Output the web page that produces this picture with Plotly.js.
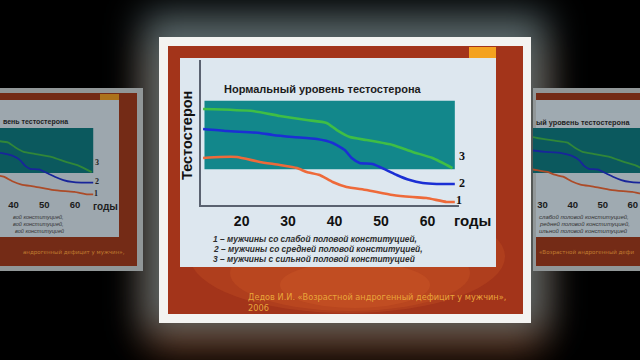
<!DOCTYPE html>
<html>
<head>
<meta charset="utf-8">
<script src="https://cdn.plot.ly/plotly-3.0.1.min.js"></script>
<style>
  html, body { margin: 0; padding: 0; background: #000; width: 640px; height: 360px; overflow: hidden; }
  #glow { position: absolute; left: 159px; top: 37px; width: 372px; height: 286px; background: #f2f2f0;
          box-shadow: 0 -8px 34px 16px rgba(95,115,120,0.85), 0 18px 36px 10px rgba(125,62,30,0.75); }
  #chart { position: absolute; left: 0; top: 0; width: 640px; height: 360px; }
</style>
</head>
<body>
<div id="glow"></div>
<div id="chart"></div>
<script>
// ---- data ----
const ageTicks = [20, 30, 40, 50, 60];
const tickLabels = ['20', '30', '40', '50', '60'];

// normal testosterone range (band)
const bandAges = [12.0, 65.9];
const normalLow = 24.6;
const normalHigh = 71.9;

// 1 – weak constitution (orange)
const ageWeak   = [11.7, 15.3, 19.0, 23.9, 28.2, 31.9, 34.0, 36.8, 39.6, 42.6, 46.9, 52.5, 56.8, 59.8, 64.1, 65.9];
const levelWeak = [32.4, 33.1, 33.1, 29.7, 27.6, 25.5, 22.8, 20.7, 15.9, 12.4, 10.3, 6.9, 5.5, 4.8, 2.1, 2.1];

// 2 – medium constitution (blue)
const ageMid   = [11.7, 16.8, 23.9, 26.7, 31.0, 36.2, 39.6, 42.2, 43.7, 45.4, 48.2, 51.2, 53.4, 56.2, 59.0, 62.0, 65.9];
const levelMid = [52.4, 51.0, 49.7, 48.3, 46.9, 45.5, 42.8, 37.9, 32.4, 29.0, 28.3, 24.1, 20.7, 17.2, 15.2, 14.5, 14.5];

// 3 – strong constitution (green)
const ageStrong   = [11.7, 22.4, 28.2, 34.0, 38.3, 40.5, 43.3, 46.9, 52.5, 56.8, 61.1, 65.4];
const levelStrong = [66.2, 64.8, 61.4, 58.6, 56.6, 51.7, 46.9, 44.8, 41.4, 36.6, 32.4, 25.5];

const chartTitle = 'Нормальный уровень тестостерона';
const yTitle = 'Тестостерон';
const xUnit = 'годы';
const legendLines = [
  '1 – мужчины со слабой половой конституцией,',
  '2 – мужчины со средней половой конституцией,',
  '3 – мужчины с сильной половой конституцией'
];
const citation = ['Дедов И.И. «Возрастной андрогенный дефицит у мужчин»,', '2006'];

// visible fragments of the blurred side copies of the slide
const leftCopyTitle = 'вень тестостерона';
const leftCopyLegend = ['вой конституцией,', 'вой конституцией,', 'вой конституцией'];
const leftCopyCitation = 'андрогенный дефицит у мужчин»,';
const rightCopyTitle = 'ый уровень тестостерона';
const rightCopyLegend = ['слабой половой конституцией,', 'редней половой конституцией,', 'ильной половой конституцией'];
const rightCopyCitation = '«Возрастной андрогенный дефи';

// ---- helpers ----
const W = 640, H = 360;
const px = x => x / W;
const py = y => 1 - y / H;
function rect(x0, y0, x1, y1, color, extra) {
  return Object.assign({type: 'rect', xref: 'paper', yref: 'paper', layer: 'below',
    x0: px(x0), x1: px(x1), y0: py(y1), y1: py(y0), fillcolor: color, line: {width: 0}}, extra || {});
}
function ell(x0, y0, x1, y1, color, op) {
  return {type: 'circle', xref: 'paper', yref: 'paper', layer: 'below',
    x0: px(x0), x1: px(x1), y0: py(y1), y1: py(y0), fillcolor: color, opacity: op, line: {width: 0}};
}

function chartTraces(xa, ya, c) {
  return [
    {x: [bandAges[0], bandAges[1], bandAges[1], bandAges[0]],
     y: [normalLow, normalLow, normalHigh, normalHigh],
     xaxis: xa, yaxis: ya, mode: 'lines', fill: 'toself', fillcolor: c.band,
     line: {width: 0}, hoverinfo: 'skip'},
    {x: ageStrong, y: levelStrong, xaxis: xa, yaxis: ya, mode: 'lines',
     line: {color: c.green, width: c.w, shape: 'spline', smoothing: 0.5}},
    {x: ageMid, y: levelMid, xaxis: xa, yaxis: ya, mode: 'lines',
     line: {color: c.blue, width: c.w, shape: 'spline', smoothing: 0.5}},
    {x: ageWeak, y: levelWeak, xaxis: xa, yaxis: ya, mode: 'lines',
     line: {color: c.orange, width: c.w, shape: 'spline', smoothing: 0.5}}
  ];
}

const mainColors = {band: '#12878b', green: '#3fbe45', blue: '#1b2fd4', orange: '#ee6a3a', w: 2.6};
const copyColors = {band: '#0d666c', green: '#389a40', blue: '#1c2bb0', orange: '#c4562e', w: 1.8};

const traces = [].concat(
  chartTraces('x', 'y', mainColors),
  chartTraces('x2', 'y2', copyColors),
  chartTraces('x3', 'y3', copyColors)
);

const hidden = {showgrid: false, zeroline: false, showticklabels: false, fixedrange: true};
const tickFontMain = {family: 'Liberation Sans, Arial, sans-serif', size: 14, color: '#111', weight: 'bold'};
const tickFontCopy = {family: 'Liberation Sans, Arial, sans-serif', size: 9.5, color: '#222', weight: 'bold'};

const layout = {
  width: W, height: H,
  margin: {l: 0, r: 0, t: 0, b: 0},
  paper_bgcolor: 'rgba(0,0,0,0)',
  plot_bgcolor: 'rgba(0,0,0,0)',
  showlegend: false,
  xaxis: {domain: [px(201), px(459)], range: [11.25, 66.8], anchor: 'y',
    tickvals: ageTicks, ticktext: tickLabels, ticks: '', tickfont: tickFontMain, ticklabelstandoff: 2,
    showgrid: false, zeroline: false, showline: true, linecolor: '#5a6270', linewidth: 2, fixedrange: true},
  yaxis: Object.assign({domain: [py(205), py(60)], range: [0, 100], anchor: 'x',
    showline: true, linecolor: '#5a6270', linewidth: 2}, hidden),
  xaxis2: {domain: [0, px(96)], range: [35.6, 66.8], anchor: 'y2',
    tickvals: ageTicks, ticktext: tickLabels, ticks: '', tickfont: tickFontCopy, ticklabelstandoff: 1,
    showgrid: false, zeroline: false, showline: false, fixedrange: true},
  yaxis2: Object.assign({domain: [py(196.4), py(101.3)], range: [0, 100], anchor: 'x2'}, hidden),
  xaxis3: {domain: [px(533), 1], range: [26.8, 62.4], anchor: 'y3',
    tickvals: ageTicks, ticktext: tickLabels, ticks: '', tickfont: tickFontCopy, ticklabelstandoff: 1,
    showgrid: false, zeroline: false, showline: false, fixedrange: true},
  yaxis3: Object.assign({domain: [py(196.4), py(101.3)], range: [0, 100], anchor: 'x3'}, hidden),
  shapes: [
    // left copy of slide
    rect(0, 88, 143, 271, '#a6acae'),
    rect(0, 93, 137, 266, '#84321a'),
    rect(0, 100, 119, 237, '#b3bfc7'),
    rect(100, 94, 119, 100, '#c4821f'),
    // right copy of slide
    rect(533, 88, 640, 271, '#a6acae'),
    rect(536, 93, 640, 266, '#84321a'),
    rect(536, 100, 640, 237, '#b6c2ca'),
    // main slide
    rect(159, 37, 531, 323, '#f3f3f1'),
    rect(168, 46, 523, 314, '#a3341a'),
    ell(190, 200, 505, 313, '#d35a26', 0.25),
    ell(230, 235, 470, 311, '#d85e28', 0.25),
    ell(280, 262, 430, 308, '#dc622a', 0.25),
    rect(180, 58, 496, 267, '#dde7ef'),
    rect(469, 47, 496, 58, '#f4a21f'),
    // dimming of the side copies
    rect(0, 88, 143, 271, 'rgba(0,0,0,0.12)', {layer: 'above'}),
    rect(533, 88, 640, 271, 'rgba(0,0,0,0.12)', {layer: 'above'})
  ],
  annotations: []
};

const A = layout.annotations;
const sans = 'Liberation Sans, Arial, sans-serif';
function note(text, x, y, font, extra) {
  A.push(Object.assign({text: text, xref: 'paper', yref: 'paper', x: px(x), y: py(y),
    xanchor: 'left', yanchor: 'middle', showarrow: false, font: font}, extra || {}));
}
// main slide texts
note(chartTitle, 222, 89, {family: sans, size: 11, color: '#1b1b1b', weight: 'bold'});
note(yTitle, 187, 136, {family: sans, size: 14.5, color: '#111', weight: 'bold'}, {xanchor: 'center', textangle: -90});
note(xUnit, 472, 220, {family: sans, size: 15, color: '#111', weight: 'bold'}, {xanchor: 'center'});
const serifLbl = {family: 'Liberation Serif, Times New Roman, serif', size: 12, color: '#111', weight: 'bold'};
note('3', 462, 156, serifLbl, {xanchor: 'center'});
note('2', 462, 183, serifLbl, {xanchor: 'center'});
note('1', 459, 200, serifLbl, {xanchor: 'center'});
legendLines.forEach((t, i) => note(t, 211, 239 + i * 10,
  {family: sans, size: 8.4, color: '#2e2e2e', style: 'italic', weight: 'bold'}));
citation.forEach((t, i) => note(t, 246, 297 + i * 11,
  {family: 'DejaVu Sans, sans-serif', size: 8.2, color: '#e9a53a'}));

// left copy texts
note(leftCopyTitle, 70, 122, {family: sans, size: 7, color: '#1e1e1e', weight: 'bold'}, {xanchor: 'right'});
note(xUnit, 105, 206, {family: sans, size: 10, color: '#1e1e1e', weight: 'bold'}, {xanchor: 'center'});
const serifSmall = {family: 'Liberation Serif, serif', size: 8, color: '#1e1e1e', weight: 'bold'};
note('3', 97, 163, serifSmall, {xanchor: 'center'});
note('2', 97, 181, serifSmall, {xanchor: 'center'});
note('1', 96, 193, serifSmall, {xanchor: 'center'});
leftCopyLegend.forEach((t, i) => note(t, 66, 217 + i * 7,
  {family: sans, size: 5.5, color: '#333', style: 'italic'}, {xanchor: 'right'}));
note(leftCopyCitation, 127, 253, {family: 'DejaVu Sans, sans-serif', size: 5.5, color: '#c07d30'}, {xanchor: 'right'});

// right copy texts
note(rightCopyTitle, 534, 122, {family: sans, size: 7.3, color: '#1e1e1e', weight: 'bold'});
rightCopyLegend.forEach((t, i) =>
  note(t, 537, 217 + i * 7, {family: sans, size: 6, color: '#333', style: 'italic'}));
note(rightCopyCitation, 537, 253, {family: 'DejaVu Sans, sans-serif', size: 5.5, color: '#c07d30'});

Plotly.newPlot('chart', traces, layout, {staticPlot: true, displayModeBar: false});
</script>
</body>
</html>
